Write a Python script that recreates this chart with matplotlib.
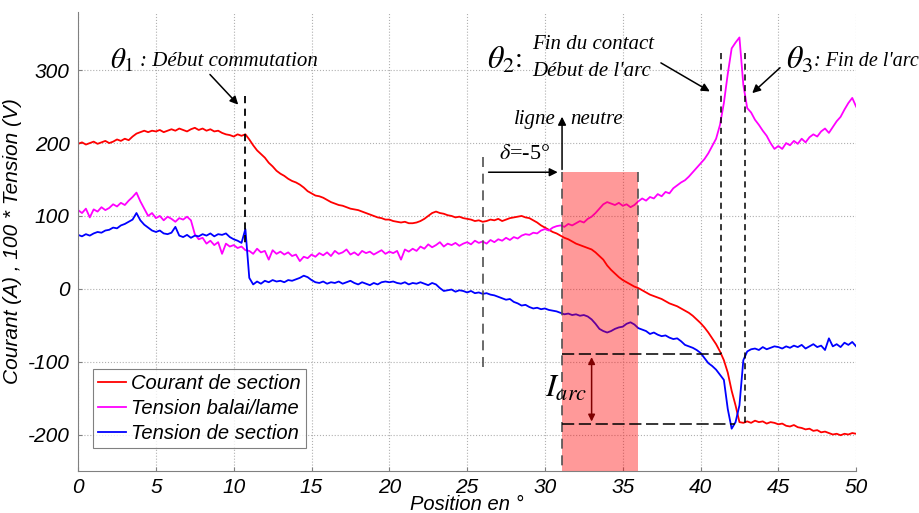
import numpy as np
import matplotlib
matplotlib.use('Agg')
import matplotlib.pyplot as plt

plt.rcParams['mathtext.fontset'] = 'stix'
plt.rcParams['axes.unicode_minus'] = False

# position in degrees, 0.25 deg step
position = np.arange(0, 50.001, 0.25)

courant = [
    199, 201, 198, 200, 202, 199, 201, 203, 200, 202, 205, 203, 206, 204, 209, 213, 215, 217, 215, 217,
    216, 218, 215, 217, 219, 217, 220, 218, 216, 219, 221, 218, 220, 217, 219, 216, 217, 214, 212, 211,
    209, 212, 210, 212, 205, 197, 190, 185, 180, 173, 168, 162, 158, 155, 151, 148, 146, 143, 139, 134,
    131, 128, 127, 125, 122, 119, 117, 115, 114, 112, 110, 109, 108, 106, 104, 102, 100, 98, 97, 95,
    95, 93, 92, 91, 92, 90, 90, 91, 93, 96, 100, 104, 106, 104, 103, 101, 100, 98, 99, 97,
    96, 95, 93, 94, 92, 93, 95, 94, 96, 93, 95, 97, 98, 99, 100, 98, 97, 94, 91, 87,
    84, 81, 78, 76, 73, 70, 68, 65, 62, 60, 58, 56, 54, 50, 45, 40, 32, 26, 21, 16,
    12, 9, 6, 3, 1, -2, -5, -8, -10, -12, -14, -17, -20, -22, -24, -27, -30, -33, -37, -42,
    -47, -53, -60, -68, -76, -86, -98, -115, -140, -160, -183, -184, -182, -184, -181, -183, -182, -185, -183, -184,
    -186, -185, -188, -189, -187, -190, -191, -193, -192, -195, -194, -197, -196, -198, -200, -199, -201, -199, -200, -198,
    -199,
]

tension_balai = [
    108, 104, 110, 98, 109, 106, 112, 108, 111, 116, 113, 118, 115, 121, 126, 132, 120, 110, 100, 104,
    97, 100, 94, 99, 96, 92, 97, 95, 99, 94, 75, 68, 70, 62, 66, 60, 64, 48, 62, 58,
    60, 56, 58, 53, 52, 48, 55, 50, 52, 40, 53, 48, 51, 47, 50, 45, 47, 38, 44, 42,
    47, 44, 49, 46, 50, 45, 52, 48, 50, 54, 47, 50, 46, 52, 49, 51, 47, 50, 53, 48,
    51, 49, 52, 40, 54, 51, 55, 52, 58, 55, 61, 57, 60, 64, 58, 62, 60, 63, 59, 62,
    64, 61, 66, 63, 65, 62, 67, 64, 68, 66, 70, 67, 71, 69, 73, 75, 74, 77, 76, 80,
    82, 80, 84, 86, 87, 85, 89, 87, 90, 93, 91, 96, 99, 104, 110, 116, 119, 117, 115, 118,
    114, 116, 112, 115, 120, 124, 121, 126, 124, 130, 127, 133, 131, 138, 142, 146, 149, 154, 160, 166,
    172, 178, 186, 196, 206, 225, 255, 295, 330, 338, 345, 280, 248, 242, 232, 225, 217, 210, 200, 192,
    196, 192, 200, 197, 203, 199, 206, 201, 208, 212, 209, 216, 220, 214, 222, 230, 236, 246, 255, 262,
    250,
]

tension_section = [
    74, 72, 75, 73, 76, 78, 77, 80, 81, 84, 83, 87, 89, 92, 95, 104, 94, 88, 84, 80,
    78, 80, 76, 75, 77, 85, 73, 71, 74, 70, 73, 72, 75, 73, 76, 72, 75, 74, 76, 71,
    68, 66, 63, 82, 15, 6, 10, 7, 11, 9, 12, 10, 11, 9, 12, 11, 13, 15, 18, 16,
    12, 9, 8, 10, 7, 9, 8, 10, 7, 9, 11, 8, 6, 9, 7, 5, 8, 6, 9, 10,
    9, 10, 8, 7, 9, 6, 8, 7, 9, 7, 5, 8, 6, 1, -3, -2, -1, -4, -2, -3,
    -5, -3, -6, -5, -7, -6, -8, -9, -11, -13, -15, -14, -18, -20, -23, -22, -25, -27, -26, -28,
    -27, -29, -30, -31, -33, -35, -34, -36, -35, -37, -36, -38, -42, -48, -55, -58, -60, -58, -55, -53,
    -52, -48, -46, -49, -54, -56, -58, -62, -60, -63, -65, -64, -67, -69, -68, -72, -77, -79, -81, -84,
    -88, -95, -102, -106, -111, -118, -125, -165, -192, -183, -160, -98, -86, -83, -82, -84, -80, -83, -81, -79,
    -80, -82, -79, -81, -78, -80, -77, -82, -79, -76, -80, -78, -84, -68, -79, -76, -80, -74, -77, -73,
    -79,
]

labels = ['Courant de section', 'Tension balai/lame', 'Tension de section']
colors = ['#ff0000', '#ff00ff', '#0000ff']

serif = 'Liberation Serif'
sans = 'Liberation Sans'

fig = plt.figure(figsize=(9.19, 5.13), dpi=100)
ax = fig.add_axes([0.085, 0.082, 0.8466, 0.8947])

for ys, lab, c in zip([courant, tension_balai, tension_section], labels, colors):
    ax.plot(position, ys, color=c, lw=1.3, label=lab)

ax.set_xlim(0, 50)
ax.set_ylim(-250, 380)
ax.set_xticks(range(0, 51, 5))
ax.set_yticks([-200, -100, 0, 100, 200, 300])
ax.grid(True, ls=':', color='#b0b0b0', lw=0.8)
for s in ['top', 'right']:
    ax.spines[s].set_visible(False)
for s in ['left', 'bottom']:
    ax.spines[s].set_color('#808080')
ax.tick_params(direction='in', length=3, color='#808080', labelsize=15, pad=6)
ax.tick_params(axis='x', pad=5)
for t in ax.get_xticklabels() + ax.get_yticklabels():
    t.set_fontfamily(sans)
    t.set_fontstyle('italic')
ax.set_xlabel('Position en °', fontsize=14.5, fontstyle='italic', family=sans, labelpad=-1)
ax.set_ylabel('Courant (A) , 100 * Tension (V)', fontsize=15, fontstyle='italic', family=sans, labelpad=4)

# shaded commutation zone
ax.axvspan(31.1, 36.0, ymax=(161 + 250) / 630, color='red', alpha=0.4, lw=0, zorder=5)

dash_k = dict(color='black', lw=1.3, ls=(0, (4, 3)), zorder=6)
dash_g = dict(color='#505050', lw=1.2, ls=(0, (6, 4)), zorder=6)
ax.plot([10.7, 10.7], [265, 58], **dash_k)
ax.plot([41.3, 41.3], [324, -90], color='black', lw=1.1, ls=(0, (4, 3)), zorder=6)
ax.plot([42.85, 42.85], [324, -187], color='black', lw=1.1, ls=(0, (4, 3)), zorder=6)
ax.plot([26.05, 26.05], [181, -111], **dash_g)
ax.plot([31.1, 31.1], [161, -250], **dash_g)
ax.plot([36.0, 36.0], [161, -45], **dash_g)
ax.plot([31.1, 41.3], [-90, -90], color='black', lw=1.1, ls=(0, (8, 3)), zorder=6)
ax.plot([31.1, 42.2], [-186, -186], color='black', lw=1.1, ls=(0, (8, 3)), zorder=6)

arr = dict(arrowstyle='-|>', color='black', lw=1.1, mutation_scale=12)
ax.annotate('', xy=(10.41, 250), xytext=(8.35, 297), arrowprops=arr)
ax.annotate('', xy=(40.75, 269), xytext=(37.3, 312), arrowprops=arr)
ax.annotate('', xy=(43.19, 266), xytext=(45.24, 306), arrowprops=arr)
ax.annotate('', xy=(31.0, 160), xytext=(26.2, 160), arrowprops=arr)
ax.annotate('', xy=(31.1, 240), xytext=(31.1, 160), arrowprops=arr)
ax.annotate('', xy=(33.0, -90), xytext=(33.0, -186),
            arrowprops=dict(arrowstyle='<|-|>', color='#7f0000', lw=1.1, mutation_scale=10), zorder=7)

ax.text(2.06, 314, r'$\theta_1$', fontsize=21, va='center', ha='left')
ax.text(3.95, 312, ': Début commutation', fontsize=15, fontstyle='italic', family=serif, va='center')
ax.text(26.3, 314, r'$\theta_2$', fontsize=23, va='center', ha='left')
ax.text(28.05, 314, ':', fontsize=20, family=serif, va='center', ha='left')
ax.text(29.2, 335, 'Fin du contact', fontsize=15, fontstyle='italic', family=serif, va='center')
ax.text(29.2, 298, "Début de l'arc", fontsize=15, fontstyle='italic', family=serif, va='center')
ax.text(45.5, 314, r'$\theta_3$', fontsize=23, va='center', ha='left')
ax.text(47.3, 312, ": Fin de l'arc", fontsize=14.5, fontstyle='italic', family=serif, va='center')
ax.text(28.7, 184, r'$\delta$=-5°', fontsize=16, family=serif, va='center', ha='center')
ax.text(30.7, 233, 'ligne', fontsize=15, fontstyle='italic', family=serif, va='center', ha='right')
ax.text(31.6, 233, 'neutre', fontsize=15, fontstyle='italic', family=serif, va='center', ha='left')
ax.text(30.0, -136, r'$I_{arc}$', fontsize=23, va='center', ha='left', zorder=8)

leg = ax.legend(loc='lower left', bbox_to_anchor=(0.019, 0.05), fancybox=False,
                prop=dict(family=sans, style='italic', size=14.5), handlelength=1.4,
                handletextpad=0.25, borderpad=0.25, labelspacing=0.3, borderaxespad=0)
leg.get_frame().set_edgecolor('#606060')
leg.get_frame().set_linewidth(0.8)

fig.savefig('out.png', dpi=100)
